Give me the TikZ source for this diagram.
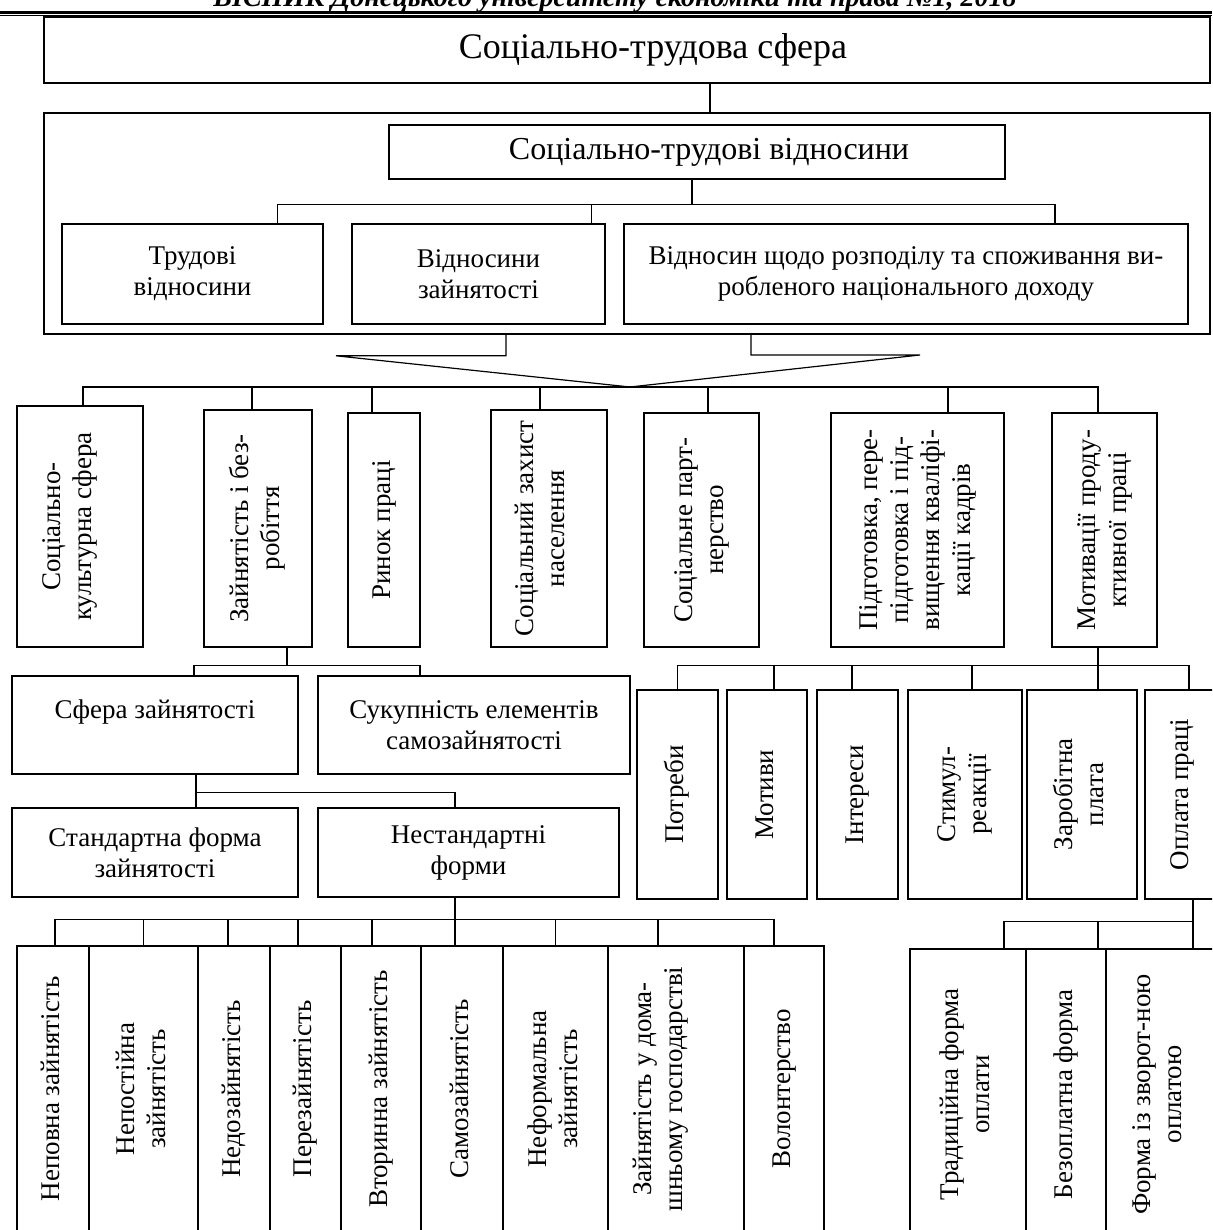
\documentclass[tikz,border=0pt]{standalone}
\usepackage{fontspec}
\setmainfont{Liberation Serif}
\usepackage{graphicx}

\newcommand{\vtext}[2][0pt]{\rotatebox{90}{\begin{tabular}{@{}c@{}}#2\\[#1]\end{tabular}}}

\begin{document}
\begin{tikzpicture}[x=1pt, y=-1pt,
	box/.style={draw, line width=1.6pt, inner sep=0pt, align=center, font=\fontsize{27}{31}\selectfont},
	conn/.style={line width=1.2pt}]
	\useasboundingbox (0,0) rectangle (1212,1230);
	\clip (0,0) rectangle (1212,1230);

	\node[font=\fontsize{28}{32}\selectfont\bfseries\itshape, anchor=base] (hdr) at (615,7) {ВІСНИК Донецького університету економіки та права №1, 2018};
	\draw[line width=3pt] (0,12.3) -- (1212,12.3);
	\draw[line width=1pt] (0,15.8) -- (1212,15.8);

	\node[box, minimum width=1166pt, minimum height=66pt, font=\fontsize{36}{40}\selectfont] (title) at (627,50) {\hspace*{52pt}Соціально-трудова сфера};
	\node[box, minimum width=1166pt, minimum height=221pt] (outer) at (627,223.5) {};
	\node[box, minimum width=616pt, minimum height=54pt, font=\fontsize{32}{36}\selectfont] (rel) at (697,152) {\hspace*{24pt}Соціально-трудові відносини};
	\node[box, minimum width=261pt, minimum height=100pt] (trud) at (192.5,274) {Трудові\\відносини};
	\node[box, minimum width=253pt, minimum height=100pt] (zayn) at (478.5,274) {Відносини\\зайнятості};
	\node[box, minimum width=564pt, minimum height=100pt] (rozp) at (906,274) {Відносин щодо розподілу та споживання ви-\\робленого національного доходу};

	\node[box, minimum width=126pt, minimum height=241pt] (soc) at (80,526.5) {\vtext[20pt]{Соціально-\\культурна сфера}};
	\node[box, minimum width=108pt, minimum height=237pt] (zb) at (258,528.5) {\vtext{Зайнятість і без-\\робіття}};
	\node[box, minimum width=72pt, minimum height=234pt] (rp) at (384,530) {\vtext{Ринок праці}};
	\node[box, minimum width=116pt, minimum height=237pt] (szn) at (549,528.5) {\vtext[13pt]{Соціальний захист\\населення}};
	\node[box, minimum width=115pt, minimum height=234pt] (sp) at (701.5,530) {\vtext{Соціальне парт-\\нерство}};
	\node[box, minimum width=173pt, minimum height=234pt] (pk) at (917.5,530) {\vtext{Підготовка, пере-\\підготовка і під-\\вищення кваліфі-\\кації кадрів}};
	\node[box, minimum width=105pt, minimum height=234pt] (mp) at (1104.5,530) {\vtext{Мотивації проду-\\ктивної праці}};

	\node[box, minimum width=286pt, minimum height=98pt] (sz) at (155,725) {Сфера зайнятості\\~};
	\node[box, minimum width=312pt, minimum height=98pt] (suk) at (474,725) {Сукупність елементів\\самозайнятості};
	\node[box, minimum width=286pt, minimum height=89pt] (sf) at (155,852.5) {Стандартна форма\\зайнятості};
	\node[box, minimum width=301pt, minimum height=89pt] (nf) at (468.5,852.5) {Нестандартні\\форми};

	\node[box, minimum width=81pt, minimum height=209pt] (m1) at (677.5,794.5) {\vtext{Потреби}};
	\node[box, minimum width=80pt, minimum height=209pt] (m2) at (767,794.5) {\vtext{Мотиви}};
	\node[box, minimum width=81pt, minimum height=209pt] (m3) at (857.5,794.5) {\vtext{Інтереси}};
	\node[box, minimum width=114pt, minimum height=209pt] (m4) at (965,794.5) {\vtext{Стимул-\\реакції}};
	\node[box, minimum width=110pt, minimum height=209pt] (m5) at (1082,794.5) {\vtext{Заробітна\\плата}};
	\node[box, minimum width=74pt, minimum height=209pt] (m6) at (1182,794.5) {\vtext{Оплата праці}};

	\node[box, minimum width=72pt, minimum height=286pt] (b1) at (53,1089) {\vtext{Неповна зайнятість}};
	\node[box, minimum width=109pt, minimum height=286pt] (b2) at (143.5,1089) {\vtext{Непостійна\\зайнятість}};
	\node[box, minimum width=72pt, minimum height=286pt] (b3) at (234,1089) {\vtext{Недозайнятість}};
	\node[box, minimum width=71pt, minimum height=286pt] (b4) at (305.5,1089) {\vtext{Перезайнятість}};
	\node[box, minimum width=80pt, minimum height=286pt] (b5) at (381,1089) {\vtext{Вторинна зайнятість}};
	\node[box, minimum width=82pt, minimum height=286pt] (b6) at (462,1089) {\vtext{Самозайнятість}};
	\node[box, minimum width=105pt, minimum height=286pt] (b7) at (555.5,1089) {\vtext{Неформальна\\зайнятість}};
	\node[box, minimum width=136pt, minimum height=286pt] (b8) at (676,1089) {\vtext[30pt]{Зайнятість у дома-\\шньому господарстві}};
	\node[box, minimum width=80pt, minimum height=286pt] (b9) at (784,1089) {\vtext{Волонтерство}};

	\node[box, minimum width=116pt, minimum height=291pt] (p1) at (968,1094.5) {\vtext{Традиційна форма\\оплати}};
	\node[box, minimum width=80pt, minimum height=291pt] (p2) at (1066,1094.5) {\vtext{Безоплатна форма}};
	\node[box, minimum width=108pt, minimum height=291pt] (p3) at (1160,1094.5) {\vtext{Форма із зворот-ною\\оплатою}};

	\draw[conn] ([xshift=83pt]title.south) -- ([xshift=83pt]outer.north);
	\draw[conn] ([xshift=-5pt]rel.south) -- ++(0,25) coordinate (j1);
	\draw[conn] (j1) -| ([xshift=85pt]trud.north);
	\draw[conn] (j1) -| ([xshift=113pt]zayn.north);
	\draw[conn] (j1) -| ([xshift=149pt]rozp.north);

	\coordinate (apex) at (630,387);
	\draw[conn] ([xshift=-121pt]outer.south) -- ++(0,21) -- ++(-170,0) -- (apex) -- ++(290,-32) -- ++(-169,0) -- ([xshift=124pt]outer.south);
	\draw[conn] (apex) -| ([xshift=3pt]soc.north);
	\draw[conn] (apex) -| ([xshift=-6pt]zb.north);
	\draw[conn] (apex) -| ([xshift=-12pt]rp.north);
	\draw[conn] (apex) -| ([xshift=-9pt]szn.north);
	\draw[conn] (apex) -| ([xshift=6.5pt]sp.north);
	\draw[conn] (apex) -| ([xshift=30.5pt]pk.north);
	\draw[conn] (apex) -| ([xshift=-6.5pt]mp.north);

	\draw[conn] ([xshift=29pt]zb.south) -- ++(0,18) coordinate (j2);
	\draw[conn] (j2) -| ([xshift=39pt]sz.north);
	\draw[conn] (j2) -| ([xshift=-54pt]suk.north);

	\draw[conn] ([xshift=41pt]sz.south) -- ++(0,18) coordinate (j3);
	\draw[conn] (j3) -| ([xshift=41pt]sf.north);
	\draw[conn] (j3) -| ([xshift=-13.5pt]nf.north);

	\draw[conn] ([xshift=-13.5pt]nf.south) -- ++(0,22) coordinate (j4);
	\draw[conn] (j4) -| ([xshift=2pt]b1.north);
	\draw[conn] (j4) -| (b2.north);
	\draw[conn] (j4) -| ([xshift=-6pt]b3.north);
	\draw[conn] (j4) -| ([xshift=-7.5pt]b4.north);
	\draw[conn] (j4) -| ([xshift=-9pt]b5.north);
	\draw[conn] (j4) -| ([xshift=-7pt]b6.north);
	\draw[conn] (j4) -| (b7.north);
	\draw[conn] (j4) -| ([xshift=-18pt]b8.north);
	\draw[conn] (j4) -| ([xshift=-10pt]b9.north);

	\draw[conn] ([xshift=-6.5pt]mp.south) -- ++(0,18) coordinate (j5);
	\draw[conn] (j5) -| (m1.north);
	\draw[conn] (j5) -| ([xshift=7pt]m2.north);
	\draw[conn] (j5) -| ([xshift=-5.5pt]m3.north);
	\draw[conn] (j5) -| ([xshift=7pt]m4.north);
	\draw[conn] (j5) -| ([xshift=16pt]m5.north);
	\draw[conn] (j5) -| ([xshift=7pt]m6.north);

	\draw[conn] ([xshift=11pt]m6.south) -- ++(0,22) coordinate (j6);
	\draw[conn] (j6) -| ([xshift=36pt]p1.north);
	\draw[conn] (j6) -| ([xshift=32pt]p2.north);
	\draw[conn] (j6) -| ([xshift=33pt]p3.north);
\end{tikzpicture}
\end{document}
